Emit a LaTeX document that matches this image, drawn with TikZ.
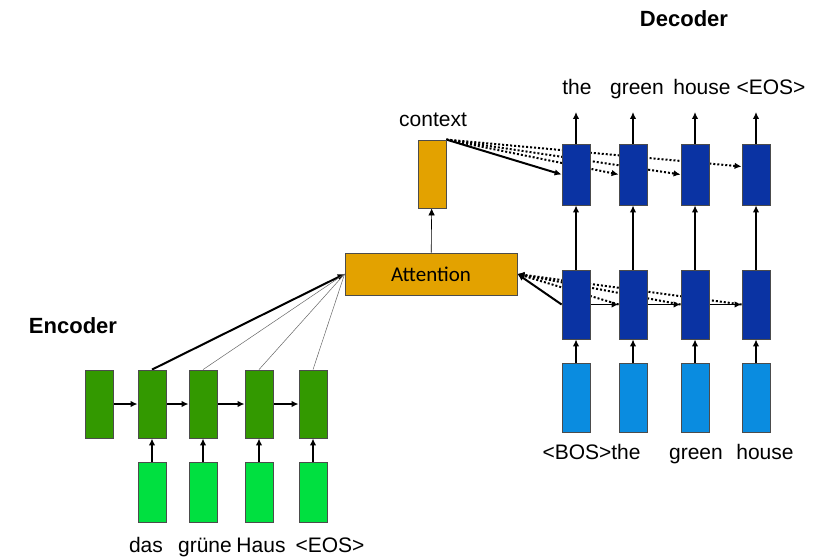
\documentclass[tikz,border=0pt]{standalone}
\usepackage{fontspec}
\setmainfont{Liberation Sans}
\newfontfamily\calfont{Carlito}
\usetikzlibrary{arrows.meta,backgrounds}

\definecolor{encgreen}{RGB}{51,153,0}
\definecolor{ingreen}{RGB}{0,224,64}
\definecolor{attorange}{RGB}{227,162,0}
\definecolor{decblue}{RGB}{10,51,163}
\definecolor{inblue}{RGB}{10,140,224}

\begin{document}
\begin{tikzpicture}[
    x=1pt, y=-1pt,
    cell/.style={draw=black!70, line width=0.8pt, minimum width=28pt, inner sep=0pt},
    enccell/.style={cell, fill=encgreen, minimum height=68pt},
    encin/.style={cell, fill=ingreen, minimum height=60pt},
    deccell/.style={cell, fill=decblue, minimum height=#1},
    decin/.style={cell, fill=inblue, minimum height=69pt},
    word/.style={font=\fontsize{21}{25}\selectfont, inner sep=0pt, anchor=base},
    title/.style={font=\fontsize{22}{26}\selectfont\bfseries, inner sep=0pt, anchor=base},
    tip/.style={-{Latex[length=7pt,width=6.5pt]}},
    up/.style={tip, line width=1.7pt},
    heavy/.style={tip, line width=2pt},
    dots/.style={tip, line width=2pt, dash pattern=on 2pt off 2pt},
    thin/.style={draw=black!60, line width=0.5pt}
  ]
  \useasboundingbox (0,0) rectangle (823,559);

  \node[title] (enc) at (73,334) {Encoder};
  \node[title] (dec) at (684,27) {Decoder};

  \node[enccell] (e0) at (99,404) {};
  \foreach \x [count=\i] in {152,203,259,313} {
    \node[enccell] (e\i) at (\x,404) {};
    \node[encin] (x\i) at (\x,492) {};
  }
  \foreach \w/\x [count=\i] in {das/146, grüne/205, Haus/261, <EOS>/330}
    \node[word] (xw\i) at (\x,552) {\w};

  \node[cell, fill=attorange, minimum width=172pt, minimum height=42pt,
        font=\calfont\fontsize{21}{25}\selectfont] (att) at (431,274) {Attention};
  \node[cell, fill=attorange, minimum height=68pt] (ctx) at (432,174) {};
  \node[word] (ctxw) at (433,127) {context};

  \foreach \x [count=\i] in {576,633,695,756} {
    \node[deccell=61pt] (t\i) at (\x,174.5) {};
    \node[deccell=69pt] (h\i) at (\x,304.5) {};
    \node[decin] (y\i) at (\x,397.5) {};
    \coordinate (o\i) at (\x,112);
  }
  \foreach \w/\x [count=\i] in {the/577, green/637, house/702, <EOS>/771}
    \node[word] (ow\i) at (\x,95) {\w};
  \foreach \w/\x [count=\i] in {<BOS>/577, the/626, green/696, house/765}
    \node[word] (yw\i) at (\x,459) {\w};

  \begin{scope}[on background layer]
    \foreach \i [evaluate=\i as \j using int(\i-1)] in {1,...,4} {
      \draw[up] (e\j) -- (e\i);
      \draw[up] (x\i) -- (e\i);
    }
    \draw[heavy] (e1.north) -- (att.west);
    \foreach \i in {2,3,4}
      \draw[thin] (e\i.north) -- (att.west);
    \draw[tip, line width=0.6pt] (att) -- (ctx);

    \foreach \i in {1,...,4} {
      \draw[up] (y\i) -- (h\i);
      \draw[up] (h\i) -- (t\i);
      \draw[up] (t\i) -- (o\i);
    }
    \foreach \i [evaluate=\i as \j using int(\i-1)] in {2,3,4}
      \draw[up] (h\j) -- (h\i);

    \draw[heavy] (ctx.north east) -- (t1.west);
    \draw[dots] (ctx.north east) -- (t2.west);
    \draw[dots] (ctx.north east) -- (t3.west);
    \draw[dots] (ctx.north east) -- ([yshift=8pt]t4.west);

    \draw[heavy] (h1.west) -- (att.east);
    \foreach \i in {2,3,4}
      \draw[dots] (h\i.west) -- (att.east);
  \end{scope}
\end{tikzpicture}
\end{document}
